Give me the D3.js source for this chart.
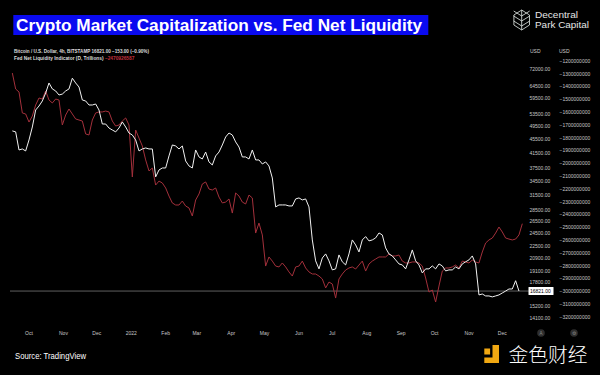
<!DOCTYPE html>
<html><head><meta charset="utf-8">
<script src="https://cdn.jsdelivr.net/npm/d3@7"></script>
<style>html,body{margin:0;padding:0;background:#000;}svg{display:block;}</style>
</head><body>
<svg id="c" width="600" height="375"></svg>
<script>
// ---- data ----
const startDate = "2021-09-16";   // first sample, then one sample every 3 days
const stepDays = 3;
const btcValues = [48000,47700,42370,42650,42100,45240,49250,55050,56500,58400,
61500,65700,63200,62350,60730,61100,62350,63200,67800,65700,
64000,58770,58400,56880,56880,57250,55050,50230,50230,48920,
48300,47700,48920,50900,49250,47350,46740,45240,42100,42650,
42930,42650,42650,35520,37170,37660,37660,40750,43780,43500,
42650,43500,39430,38160,37660,42370,40480,39950,41800,39180,
38410,40750,41800,43780,46130,47350,46740,44660,43200,40480,
40480,39950,42370,39690,39690,38660,39180,38160,35270,29180,
29560,29560,29560,29370,29370,30750,30950,30550,30750,29180,
23510,20500,19450,20890,21450,20500,19320,19450,21310,20370,
19960,21450,23510,22750,21730,23510,24030,23360,23510,23820,
24610,24290,22310,21450,21170,20630,20090,19960,19450,20630,
22020,20500,19960,18940,19450,19450,19830,19450,20090,19830,
19190,19320,19320,19700,19450,20090,20370,20630,21170,20090,
16400,16500,16290,16290,16190,16290,16400,16610,16820,17050,
17050,18000,16821];
// Fed Net Liquidity, millions
const fedValues = [-1294,-1419,-1442,-1606,-1614,-1677,-1630,-1544,-1489,-1497,
-1434,-1505,-1528,-1497,-1505,-1700,-1622,-1575,-1614,-1653,
-1661,-1669,-1770,-1778,-1661,-1606,-1598,-1598,-1591,-1598,
-1669,-1708,-1700,-1669,-1645,-1700,-2106,-1739,-1802,-1864,
-1973,-2059,-2036,-2169,-2138,-2153,-2192,-2255,-2309,-2325,
-2325,-2294,-2333,-2348,-2411,-2286,-2239,-2161,-2145,-2200,
-2208,-2192,-2263,-2309,-2302,-2278,-2388,-2231,-2255,-2302,
-2317,-2247,-2270,-2544,-2466,-2559,-2802,-2731,-2763,-2802,
-2809,-2778,-2809,-2848,-2880,-2809,-2802,-2763,-2817,-2848,
-2864,-2864,-2880,-2903,-2973,-2927,-2942,-3052,-2903,-2864,
-2833,-2817,-2809,-2825,-2794,-2763,-2841,-2786,-2763,-2747,
-2731,-2731,-2731,-2708,-2723,-2723,-2716,-2763,-2778,-2778,
-2770,-2770,-2778,-2802,-2895,-3005,-2989,-3083,-2958,-2841,
-2817,-2817,-2809,-2794,-2817,-2763,-2770,-2778,-2755,-2770,
-2778,-2692,-2622,-2598,-2583,-2544,-2497,-2536,-2583,-2591,
-2598,-2591,-2559,-2471];
const btcTicks = [72000,64500,59500,53500,49500,45500,41500,37500,34500,31500,28500,26500,24500,22500,20900,19100,17800,15200,14100];
const fedTicks = [-1200,-1300,-1400,-1500,-1600,-1700,-1800,-1900,-2000,-2100,-2200,-2300,-2400,-2500,-2600,-2700,-2800,-2900,-3000,-3100,-3200];
const monthTicks = ["2021-10-01","2021-11-01","2021-12-01","2022-01-01","2022-02-01","2022-03-01","2022-04-01","2022-05-01","2022-06-01","2022-07-01","2022-08-01","2022-09-01","2022-10-01","2022-11-01","2022-12-01"];
const monthLabels = ["Oct","Nov","Dec","2022","Feb","Mar","Apr","May","Jun","Jul","Aug","Sep","Oct","Nov","Dec"];
const lastPrice = 16821;
const titleText = "Crypto Market Capitalization vs. Fed Net Liquidity";
const legend1 = "Bitcoin / U.S. Dollar, 4h, BITSTAMP  16821.00  −153.00 (−0.90%)";
const legend2 = "Fed Net Liquidity Indicator (D, Trillions)";
const legend2Val = "−2470926587";

// ---- scales ----
const parse = d3.utcParse("%Y-%m-%d");
const t0 = parse(startDate);
const dateAt = i => d3.utcDay.offset(t0, i*stepDays);
const x = d3.scaleUtc().domain([parse("2021-10-01"), parse("2022-12-01")]).range([29, 502.3]);
const yB = d3.scaleLog().domain([72000, 14100]).range([69, 318]);
const yF = d3.scaleLinear().domain([-1200, -3200]).range([61, 317]);

const svg = d3.select("#c");
svg.append("rect").attr("width",600).attr("height",375).attr("fill","#000");

const fontS = "Liberation Sans, Arial, sans-serif";

// title
svg.append("rect").attr("x",13.3).attr("y",15).attr("width",415).attr("height",20).attr("fill","#0a0af0");
svg.append("text").attr("x",16).attr("y",30.5).attr("fill","#fff")
  .attr("font-family",fontS).attr("font-weight","bold").attr("font-size",16)
  .attr("textLength",406).attr("lengthAdjust","spacingAndGlyphs").text(titleText);

// legend
svg.append("text").attr("x",14).attr("y",52.7).attr("fill","#ddd").attr("font-family",fontS)
  .attr("font-size",4.8).attr("font-weight",600).attr("textLength",135).attr("lengthAdjust","spacingAndGlyphs").text(legend1);
const l2 = svg.append("text").attr("x",14).attr("y",59.7).attr("font-family",fontS).attr("font-size",4.8).attr("font-weight",600);
l2.append("tspan").attr("fill","#ddd").text(legend2 + "  ");
l2.append("tspan").attr("fill","#c0303c").text(legend2Val);

// price line
svg.append("line").attr("x1",10).attr("x2",529).attr("y1",yB(lastPrice)).attr("y2",yB(lastPrice))
  .attr("stroke","#8a8a8a").attr("stroke-width",0.7);

// lines
const fedLine = d3.line().x((d,i)=>x(dateAt(i))).y(d=>yF(d));
svg.append("path").datum(fedValues).attr("d",fedLine).attr("fill","none").attr("stroke","#a3303b").attr("stroke-width",1);
const btcLine = d3.line().x((d,i)=>x(dateAt(i))).y(d=>yB(d));
svg.append("path").datum(btcValues).attr("d",btcLine).attr("fill","none").attr("stroke","#f2f2f2").attr("stroke-width",1);

// left price axis
svg.append("text").attr("x",530).attr("y",52.7).attr("fill","#ccc").attr("font-family",fontS).attr("font-size",5).text("USD");
svg.append("g").selectAll("text").data(btcTicks).join("text")
  .attr("x",529.5).attr("y",d=>yB(d)+1.8).attr("fill","#c8c8c8").attr("font-family",fontS).attr("font-size",5)
  .text(d=>d.toFixed(2));
// price label
svg.append("rect").attr("x",528.5).attr("y",yB(lastPrice)-4).attr("width",25).attr("height",8).attr("fill","#fff").attr("rx",0.5);
svg.append("text").attr("x",530).attr("y",yB(lastPrice)+1.8).attr("fill","#000").attr("font-family",fontS).attr("font-size",5).text(lastPrice.toFixed(2));

// right fed axis
svg.append("text").attr("x",559).attr("y",52.7).attr("fill","#ccc").attr("font-family",fontS).attr("font-size",5).text("USD");
svg.append("g").selectAll("text").data(fedTicks).join("text")
  .attr("x",559.5).attr("y",d=>yF(d)+1.8).attr("fill","#c8c8c8").attr("font-family",fontS).attr("font-size",5)
  .text(d=>"−"+String(Math.abs(d*1e6)));

// x axis
svg.append("g").selectAll("text").data(monthTicks).join("text")
  .attr("x",d=>x(parse(d))).attr("y",334.8).attr("text-anchor","middle").attr("fill","#c8c8c8")
  .attr("font-family",fontS).attr("font-size",5).text((d,i)=>monthLabels[i]);

// small buttons
[[541,"A"],[574,"⚙"]].forEach(([cx,t])=>{
  svg.append("circle").attr("cx",cx).attr("cy",333).attr("r",3.8).attr("fill","#2e2e2e");
  svg.append("text").attr("x",cx).attr("y",334.8).attr("text-anchor","middle").attr("fill","#888").attr("font-family",fontS).attr("font-size",4.5).text(t);
});

// logo top right
const lg = svg.append("g").attr("stroke","#cfd6d2").attr("fill","none").attr("stroke-width",0.9);
const hx = 521.7, hy = 20, hr = 10;
lg.append("path").attr("d", d3.range(6).map((k,j)=>{const a=Math.PI/3*k-Math.PI/2;return (j?"L":"M")+(hx+hr*Math.cos(a)*0.9)+","+(hy+hr*Math.sin(a));}).join("")+"Z");
lg.append("line").attr("x1",hx).attr("x2",hx).attr("y1",hy-hr).attr("y2",hy+hr);
[-5,0,5].forEach(o=>{
  lg.append("path").attr("d",`M${hx-8},${hy+o-4}L${hx},${hy+o+1}L${hx+8},${hy+o-4}`);
});
svg.append("text").attr("x",535).attr("y",18.4).attr("fill","#e6e6e6").attr("font-family",fontS).attr("font-size",8.6).attr("font-weight",500).attr("textLength",43).attr("lengthAdjust","spacingAndGlyphs").text("Decentral");
svg.append("text").attr("x",535).attr("y",27.6).attr("fill","#e6e6e6").attr("font-family",fontS).attr("font-size",8.6).attr("font-weight",500).attr("textLength",54).attr("lengthAdjust","spacingAndGlyphs").text("Park Capital");

// source
svg.append("text").attr("x",15).attr("y",358.5).attr("fill","#fff").attr("font-family",fontS).attr("font-size",9)
  .attr("textLength",71).attr("lengthAdjust","spacingAndGlyphs").text("Source: TradingView");

// jinse logo
const gold = "#f1a812";
svg.append("rect").attr("x",484.3).attr("y",348.5).attr("width",5.8).attr("height",6).attr("fill",gold);
svg.append("rect").attr("x",492.5).attr("y",345).attr("width",6.5).attr("height",18).attr("fill",gold);
svg.append("rect").attr("x",484.3).attr("y",357.5).attr("width",14.7).attr("height",5.5).attr("fill",gold);
svg.append("text").attr("x",508.5).attr("y",361.5).attr("fill","#fff").attr("font-family","Noto Sans CJK SC, sans-serif")
  .attr("font-size",19).attr("font-weight",300).attr("textLength",79).attr("lengthAdjust","spacingAndGlyphs").text("金色财经");
</script>
</body></html>
